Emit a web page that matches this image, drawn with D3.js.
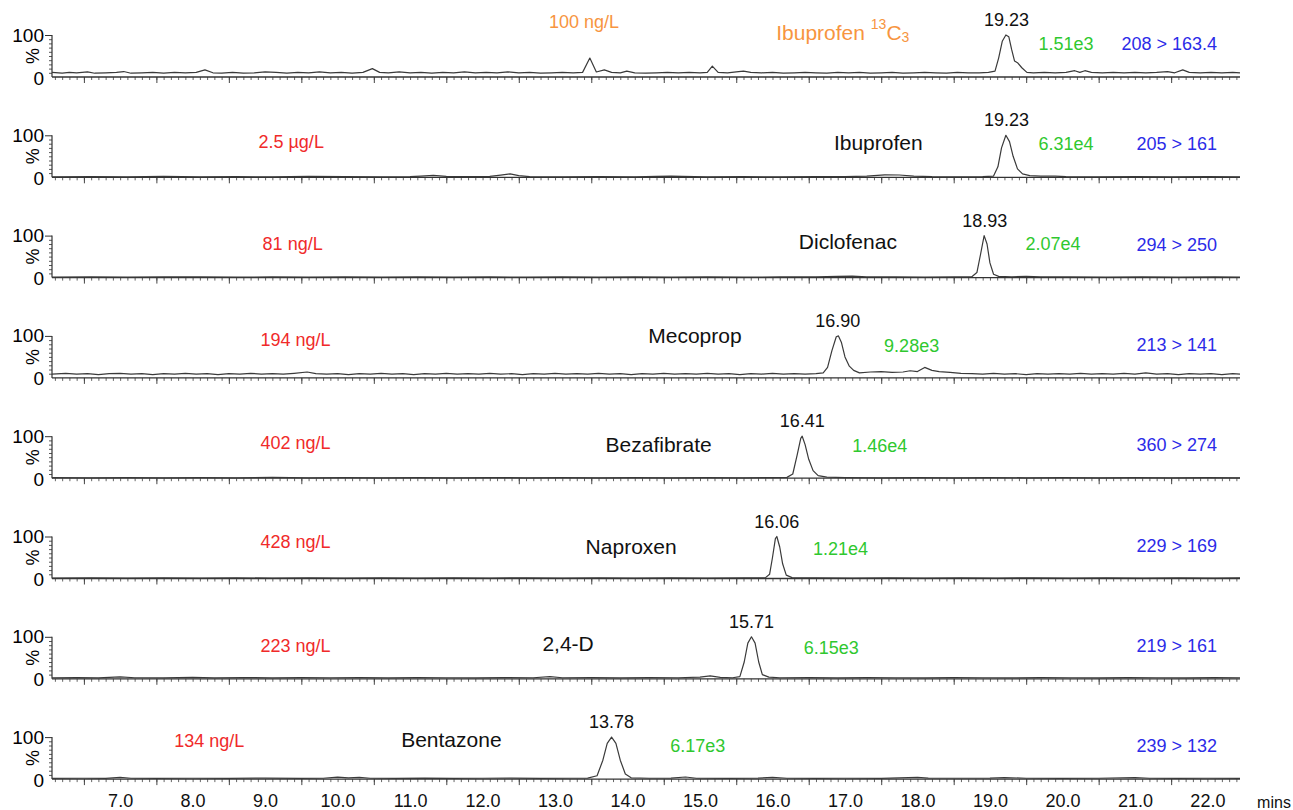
<!DOCTYPE html>
<html>
<head>
<meta charset="utf-8">
<script src="https://cdn.jsdelivr.net/npm/d3@7"></script>
<style>
  html, body { margin: 0; padding: 0; background: #fff; }
  #chart { width: 1293px; height: 810px; }
</style>
</head>
<body>
<div id="chart"></div>
<script>
// one entry per panel, top to bottom
const compounds = ["Ibuprofen 13C3", "Ibuprofen", "Diclofenac", "Mecoprop", "Bezafibrate", "Naproxen", "2,4-D", "Bentazone"];
const concentrations = ["100 ng/L", "2.5 \u00b5g/L", "81 ng/L", "194 ng/L", "402 ng/L", "428 ng/L", "223 ng/L", "134 ng/L"];
const retentionTimes = [19.23, 19.23, 18.93, 16.90, 16.41, 16.06, 15.71, 13.78];
const peakAreas = ["1.51e3", "6.31e4", "2.07e4", "9.28e3", "1.46e4", "1.21e4", "6.15e3", "6.17e3"];
const transitions = ["208 > 163.4", "205 > 161", "294 > 250", "213 > 141", "360 > 274", "229 > 169", "219 > 161", "239 > 132"];
const timeTicks = [7, 8, 9, 10, 11, 12, 13, 14, 15, 16, 17, 18, 19, 20, 21, 22];

// traces [time (min), relative intensity %]
const traceIbu13C3 = [[6.06,11],[6.20,9],[6.30,11],[6.40,10],[6.55,12],[6.65,9],[6.80,10],[6.95,11],[7.05,13],[7.15,9],[7.30,10],[7.45,11],[7.60,9],[7.75,11],[7.90,10],[8.05,11],[8.17,17],[8.28,10],[8.40,9],[8.55,11],[8.70,9],[8.85,10],[9.00,12],[9.15,11],[9.30,9],[9.45,11],[9.60,10],[9.75,12],[9.90,10],[10.05,11],[10.20,9],[10.35,11],[10.48,20],[10.58,11],[10.70,10],[10.85,12],[11.00,10],[11.15,11],[11.30,9],[11.45,11],[11.60,10],[11.75,12],[11.90,10],[12.05,11],[12.20,10],[12.35,12],[12.50,10],[12.65,11],[12.80,9],[12.95,10],[13.10,11],[13.25,10],[13.38,11],[13.48,45],[13.57,12],[13.68,17],[13.78,11],[13.90,10],[13.99,14],[14.10,10],[14.25,9],[14.40,10],[14.55,11],[14.70,10],[14.85,11],[15.00,10],[15.10,11],[15.17,26],[15.25,11],[15.38,10],[15.50,12],[15.60,14],[15.70,11],[15.85,10],[16.00,11],[16.15,9],[16.30,10],[16.45,11],[16.60,10],[16.75,9],[16.90,11],[17.05,10],[17.20,11],[17.35,9],[17.50,10],[17.65,11],[17.80,9],[17.95,10],[18.10,11],[18.25,10],[18.40,9],[18.55,11],[18.70,10],[18.85,10],[18.98,11],[19.07,14],[19.12,45],[19.17,85],[19.22,100],[19.26,96],[19.30,65],[19.34,38],[19.38,34],[19.44,22],[19.51,11],[19.60,10],[19.75,11],[19.90,10],[20.05,11],[20.17,15],[20.24,11],[20.31,15],[20.40,11],[20.55,10],[20.70,11],[20.85,10],[21.00,11],[21.15,10],[21.30,11],[21.45,13],[21.55,10],[21.66,17],[21.75,11],[21.90,10],[22.05,11],[22.20,10],[22.35,11],[22.45,10]];
const traceIbuprofen = [[6.06,1],[6.6,1.5],[7.1,1],[7.6,2],[8.1,1],[8.6,1.5],[9.1,1],[9.6,2],[10.1,1.5],[10.6,1],[11.0,1.5],[11.15,3],[11.32,4.5],[11.5,2],[11.8,1.5],[12.1,2],[12.25,5],[12.38,8],[12.5,4],[12.65,1.5],[13.1,1],[13.6,1.5],[14.1,1],[14.4,2],[14.6,3],[14.75,2],[15.1,1],[15.6,1.5],[16.1,1],[16.6,1.5],[17.0,1.5],[17.3,3],[17.55,6],[17.75,5.5],[17.95,3],[18.2,1.5],[18.6,1],[18.9,1.5],[19.05,3],[19.11,25],[19.16,70],[19.22,100],[19.27,85],[19.32,50],[19.38,20],[19.45,8],[19.55,4],[19.7,3],[19.9,3],[20.05,1.5],[20.5,1],[21.0,1.5],[21.5,1],[22.0,1.5],[22.45,1]];
const traceDiclofenac = [[6.06,1],[6.6,1.5],[7.1,1],[7.6,1.5],[8.1,2],[8.6,1],[9.1,1.5],[9.6,1],[10.1,1.5],[10.6,1],[11.1,2],[11.6,1],[12.1,1.5],[12.6,1],[13.1,1.5],[13.6,1],[14.1,1.5],[14.6,1],[15.1,1.5],[15.6,1],[16.1,1.5],[16.6,2],[16.9,3],[17.1,3.5],[17.3,2],[17.7,1.5],[18.1,1],[18.5,1.5],[18.75,2],[18.82,12],[18.87,55],[18.92,100],[18.96,80],[19.0,35],[19.05,8],[19.12,3],[19.3,2],[19.5,3],[19.7,2],[20.1,1.5],[20.6,1],[21.1,1.5],[21.6,1],[22.1,1.5],[22.45,1]];
const traceMecoprop = [[6.06,9],[6.25,11],[6.4,9],[6.55,10],[6.7,8],[6.85,10],[7.0,11],[7.15,9],[7.3,10],[7.45,8],[7.6,10],[7.75,9],[7.9,11],[8.05,9],[8.2,10],[8.35,8],[8.5,10],[8.65,9],[8.8,11],[8.95,9],[9.1,10],[9.25,9],[9.4,11],[9.58,14],[9.7,10],[9.85,9],[10.0,10],[10.15,8],[10.3,10],[10.45,9],[10.6,11],[10.75,9],[10.9,10],[11.05,8],[11.2,10],[11.35,9],[11.5,11],[11.65,9],[11.8,10],[11.95,9],[12.1,11],[12.25,9],[12.4,10],[12.55,8],[12.7,10],[12.85,9],[13.0,11],[13.15,9],[13.3,10],[13.45,9],[13.6,11],[13.75,9],[13.9,10],[14.05,8],[14.2,10],[14.35,9],[14.5,11],[14.65,9],[14.8,10],[14.95,9],[15.1,11],[15.25,9],[15.4,10],[15.55,8],[15.7,10],[15.85,9],[16.0,11],[16.15,9],[16.3,10],[16.45,9],[16.6,10],[16.7,12],[16.76,25],[16.82,65],[16.88,98],[16.91,100],[16.95,85],[17.0,50],[17.06,28],[17.12,18],[17.2,12],[17.35,14],[17.5,15],[17.65,13],[17.8,14],[17.9,17],[18.0,15],[18.1,25],[18.2,18],[18.3,15],[18.45,13],[18.6,11],[18.75,10],[18.9,9],[19.05,11],[19.2,9],[19.35,10],[19.5,8],[19.65,10],[19.8,9],[19.95,10],[20.1,9],[20.25,11],[20.4,9],[20.55,10],[20.7,9],[20.85,11],[21.0,9],[21.15,12],[21.3,9],[21.45,10],[21.6,8],[21.75,10],[21.9,9],[22.05,10],[22.2,8],[22.35,10],[22.45,9]];
const traceBezafibrate = [[6.06,1.5],[6.6,1],[7.1,1.5],[7.6,1],[8.1,1.5],[8.6,1],[9.1,2],[9.6,1],[10.1,1.5],[10.6,1],[11.1,1.5],[11.6,1],[12.1,1.5],[12.6,1],[13.1,1.5],[13.6,1],[14.1,1.5],[14.6,1],[15.1,1.5],[15.6,1],[16.0,1.5],[16.2,2],[16.28,10],[16.34,55],[16.39,95],[16.41,100],[16.45,80],[16.5,45],[16.56,18],[16.63,6],[16.75,2.5],[17.0,1.5],[17.5,1],[18.0,1.5],[18.5,1],[19.0,1.5],[19.5,1],[20.0,1.5],[20.5,1],[21.0,1.5],[21.5,1],[22.0,1.5],[22.45,1]];
const traceNaproxen = [[6.06,1],[6.6,1.5],[7.1,1],[7.6,1.5],[8.1,1],[8.6,1.5],[9.1,1],[9.6,1.5],[10.1,1],[10.6,1.5],[11.1,1],[11.6,1.5],[12.1,1],[12.6,1.5],[13.1,1],[13.6,1.5],[14.1,1],[14.6,1.5],[15.1,1],[15.6,1.5],[15.9,1.5],[15.96,10],[16.0,50],[16.04,95],[16.06,100],[16.1,75],[16.14,35],[16.19,8],[16.27,2],[16.6,1.5],[17.1,1],[17.6,1.5],[18.1,1],[18.6,1.5],[19.1,1],[19.6,1.5],[20.1,1],[20.6,1.5],[21.1,1],[21.6,1.5],[22.1,1],[22.45,1.5]];
const trace24D = [[6.06,2],[6.4,3],[6.7,2],[7.0,4.5],[7.2,2.5],[7.6,2],[8.0,3.5],[8.3,2],[8.7,3],[9.1,2],[9.5,3],[9.9,2.5],[10.3,3],[10.7,2],[11.1,3],[11.5,2.5],[11.9,2],[12.3,3],[12.7,2.5],[12.93,5],[13.1,2.5],[13.5,3],[13.9,2],[14.3,3],[14.7,2.5],[15.0,4],[15.14,7],[15.28,3.5],[15.45,2.5],[15.55,5],[15.61,40],[15.66,85],[15.71,100],[15.76,85],[15.81,40],[15.86,10],[15.95,4],[16.1,2.5],[16.5,3],[16.9,2],[17.3,3],[17.7,2.5],[18.1,2],[18.5,3],[18.9,2.5],[19.3,2],[19.7,3],[20.1,2.5],[20.5,2],[20.9,3],[21.3,2.5],[21.7,2],[22.1,3],[22.45,2.5]];
const traceBentazone = [[6.06,1.5],[6.5,2],[6.8,1.5],[7.0,4],[7.15,2],[7.5,1.5],[8.0,2],[8.5,1.5],[9.0,2.5],[9.5,1.5],[9.8,2],[10.0,4.5],[10.15,3],[10.3,4],[10.45,2],[10.8,1.5],[11.2,2.5],[11.6,1.5],[12.0,2],[12.4,2.5],[12.8,1.5],[13.2,2],[13.45,2.5],[13.58,8],[13.66,45],[13.72,85],[13.78,100],[13.84,85],[13.9,45],[13.97,12],[14.05,3],[14.3,2],[14.6,2.5],[14.8,5],[14.95,2],[15.4,1.5],[15.8,2.5],[16.0,4],[16.2,2],[16.6,1.5],[17.0,2],[17.5,1.5],[18.0,4],[18.15,2.5],[18.5,2],[19.0,2.5],[19.2,3.5],[19.5,2],[20.0,1.5],[20.5,2],[21.0,3.5],[21.2,2],[21.6,1.5],[22.0,2],[22.45,1.5]];

const traces = [traceIbu13C3, traceIbuprofen, traceDiclofenac, traceMecoprop, traceBezafibrate, traceNaproxen, trace24D, traceBentazone];

// label placement (x in minutes, y offset in px from the panel baseline)
const concPos = [[13.40, -55], [9.36, -35], [9.38, -34], [9.42, -38], [9.42, -35], [9.42, -37], [9.42, -33], [8.23, -38]];
const namePos = [[16.97, -45], [17.46, -35], [17.04, -36], [14.93, -42], [14.43, -34], [14.05, -32], [13.18, -35], [11.57, -40]];
const areaPos = [[20.05, -33], [20.05, -33], [19.87, -34], [17.92, -32], [17.48, -32], [16.94, -30], [16.81, -31], [14.97, -33]];

const W = 1293, H = 810;
const x0 = 52, x1 = 1240;
const firstBase = 77, panelGap = 100.3, panelH = 42;
const font = "Liberation Sans, Arial, Helvetica, sans-serif";

const svg = d3.select("#chart").append("svg")
    .attr("width", W)
    .attr("height", H)
    .style("font-family", font);

svg.append("rect").attr("width", W).attr("height", H).attr("fill", "#fff");

const x = d3.scaleLinear().domain([6.06, 22.45]).range([x0, x1]);

const colors = {
    orange: "#f7953f",
    red: "#f02a2a",
    green: "#2fc82f",
    blue: "#2b2be8",
    trace: "#3a3a3a"
};

traces.forEach((trace, i) => {
    const base = firstBase + i * panelGap;
    const y = d3.scaleLinear().domain([0, 100]).range([base, base - panelH]);
    const g = svg.append("g");

    // x axis ticks: 0.1 min minor, longer ones on the half minute
    g.append("g")
        .attr("transform", `translate(0,${base})`)
        .call(d3.axisBottom(x).tickValues(d3.range(61, 225).map(v => v / 10)).tickSize(3).tickFormat(""))
        .call(a => a.select(".domain").remove())
        .selectAll("line").attr("stroke", "#555").attr("stroke-width", 0.9);
    g.append("g")
        .attr("transform", `translate(0,${base})`)
        .call(d3.axisBottom(x).tickValues(d3.range(6.5, 22.5, 1)).tickSize(6).tickFormat(""))
        .call(a => a.select(".domain").remove())
        .selectAll("line").attr("stroke", "#444").attr("stroke-width", 1);
    g.append("line")
        .attr("x1", x0).attr("x2", x1)
        .attr("y1", base).attr("y2", base)
        .attr("stroke", "#333").attr("stroke-width", 1.3);

    // y axis
    g.append("g")
        .attr("transform", `translate(${x0},0)`)
        .call(d3.axisLeft(y).tickValues(d3.range(10, 100, 10)).tickSize(3).tickFormat(""))
        .call(a => a.select(".domain").remove())
        .selectAll("line").attr("stroke", "#555");
    g.append("g")
        .attr("transform", `translate(${x0},0)`)
        .call(d3.axisLeft(y).tickValues([100]).tickSize(7).tickFormat(""))
        .call(a => a.select(".domain").remove())
        .selectAll("line").attr("stroke", "#333");
    g.append("line")
        .attr("x1", x0).attr("x2", x0)
        .attr("y1", y(0)).attr("y2", y(100))
        .attr("stroke", "#333").attr("stroke-width", 1.2);

    g.append("text").attr("x", 44).attr("y", y(100)).attr("text-anchor", "end")
        .attr("dominant-baseline", "central").attr("font-size", 19).text("100");
    g.append("text").attr("x", 44).attr("y", y(0) + 1).attr("text-anchor", "end")
        .attr("dominant-baseline", "central").attr("font-size", 19).text("0");
    g.append("text")
        .attr("transform", `translate(33,${y(50)}) rotate(-90)`)
        .attr("text-anchor", "middle").attr("dominant-baseline", "central")
        .attr("font-size", 18).text("%");

    // chromatogram
    g.append("path")
        .datum(trace)
        .attr("fill", "none")
        .attr("stroke", colors.trace)
        .attr("stroke-width", 1.2)
        .attr("stroke-linejoin", "round")
        .attr("d", d3.line().x(d => x(d[0])).y(d => y(d[1])));

    // labels
    const isStd = i === 0;
    g.append("text")
        .attr("x", x(concPos[i][0])).attr("y", base + concPos[i][1])
        .attr("text-anchor", "middle").attr("dominant-baseline", "central")
        .attr("font-size", 18).attr("fill", isStd ? colors.orange : colors.red)
        .text(concentrations[i]);

    const name = g.append("text")
        .attr("x", x(namePos[i][0])).attr("y", base + namePos[i][1])
        .attr("text-anchor", "middle").attr("dominant-baseline", "central")
        .attr("font-size", 21).attr("fill", isStd ? colors.orange : "#111");
    if (isStd) {
        name.append("tspan").text("Ibuprofen ");
        name.append("tspan").attr("font-size", 14).attr("dy", -8).text("13");
        name.append("tspan").attr("dy", 8).text("C");
        name.append("tspan").attr("font-size", 14).attr("dy", 5).text("3");
    } else {
        name.text(compounds[i]);
    }

    g.append("text")
        .attr("x", x(retentionTimes[i])).attr("y", base - 57)
        .attr("text-anchor", "middle").attr("dominant-baseline", "central")
        .attr("font-size", 18).attr("fill", "#111")
        .text(retentionTimes[i].toFixed(2));

    g.append("text")
        .attr("x", x(areaPos[i][0])).attr("y", base + areaPos[i][1])
        .attr("text-anchor", "middle").attr("dominant-baseline", "central")
        .attr("font-size", 18).attr("fill", colors.green)
        .text(peakAreas[i]);

    g.append("text")
        .attr("x", 1217).attr("y", base - 33)
        .attr("text-anchor", "end").attr("dominant-baseline", "central")
        .attr("font-size", 18).attr("fill", colors.blue)
        .text(transitions[i]);
});

// time labels under the last panel
const lastBase = firstBase + (traces.length - 1) * panelGap;
const timeAxis = svg.append("g")
    .attr("transform", `translate(0,${lastBase})`)
    .call(d3.axisBottom(x).tickValues(timeTicks).tickSize(0).tickPadding(15).tickFormat(d3.format(".1f")));
timeAxis.select(".domain").remove();
timeAxis.selectAll("text").attr("font-size", 18).attr("font-family", font).attr("fill", "#111");

svg.append("text")
    .attr("x", 1274).attr("y", lastBase + 23)
    .attr("text-anchor", "middle").attr("dominant-baseline", "central")
    .attr("font-size", 16).attr("fill", "#111")
    .text("mins");
</script>
</body>
</html>
